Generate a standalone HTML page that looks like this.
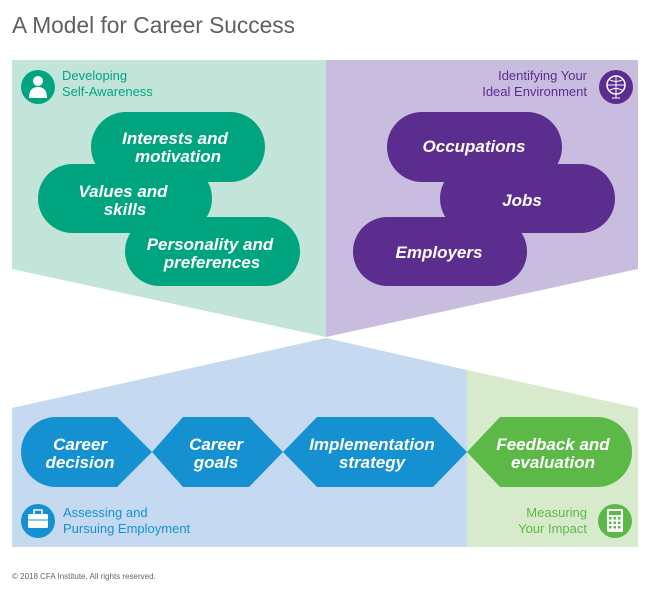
<!DOCTYPE html>
<html><head><meta charset="utf-8"><style>
html,body{margin:0;padding:0;background:#fff;}
svg{display:block;font-family:"Liberation Sans",sans-serif;}
.p{font-style:italic;font-weight:bold;font-size:17px;fill:#fff;text-anchor:middle;}
.l{font-size:13px;}
</style></head><body>
<svg width="650" height="592" viewBox="0 0 650 592">
<text x="12" y="33" font-size="23" fill="#5f6062" textLength="283" lengthAdjust="spacingAndGlyphs">A Model for Career Success</text>
<!-- top panels -->
<polygon points="12,60 326,60 326,337 12,269" fill="#c3e5d9"/>
<polygon points="326,60 638,60 638,269 326,337" fill="#c8bddf"/>
<!-- bottom panels -->
<polygon points="326,338 467,370 467,547 12,547 12,408" fill="#c5daf1"/>
<polygon points="467,370 638,408 638,547 467,547" fill="#d7eacb"/>
<!-- green pills -->
<g fill="#00a57f">
<rect x="38" y="164" width="174" height="69" rx="34.5"/>
<rect x="91" y="112" width="174" height="70" rx="35"/>
<rect x="125" y="217" width="175" height="69" rx="34.5"/>
</g>
<text class="p" x="175" y="144">Interests and</text>
<text class="p" x="178" y="162">motivation</text>
<text class="p" x="123" y="197">Values and</text>
<text class="p" x="125" y="215">skills</text>
<text class="p" x="210" y="250">Personality and</text>
<text class="p" x="212" y="268">preferences</text>
<!-- purple pills -->
<g fill="#5b2d8e">
<rect x="440" y="164" width="175" height="69" rx="34.5"/>
<rect x="387" y="112" width="175" height="70" rx="35"/>
<rect x="353" y="217" width="174" height="69" rx="34.5"/>
</g>
<text class="p" x="474" y="152">Occupations</text>
<text class="p" x="522" y="206">Jobs</text>
<text class="p" x="439" y="258">Employers</text>
<!-- bottom chevrons -->
<path d="M56,417 L117,417 L152,452 L117,487 L56,487 A35,35 0 0 1 56,417 Z" fill="#1590d0"/>
<polygon points="152,452 183,417 249,417 283,452 249,487 183,487" fill="#1590d0"/>
<polygon points="283,452 317,417 433,417 467,452 433,487 317,487" fill="#1590d0"/>
<path d="M467,452 L500,417 L597,417 A35,35 0 0 1 597,487 L500,487 Z" fill="#5cb947"/>
<text class="p" x="80" y="450">Career</text>
<text class="p" x="80" y="468">decision</text>
<text class="p" x="216" y="450">Career</text>
<text class="p" x="216" y="468">goals</text>
<text class="p" x="372" y="450">Implementation</text>
<text class="p" x="372" y="468">strategy</text>
<text class="p" x="553" y="450">Feedback and</text>
<text class="p" x="553" y="468">evaluation</text>
<!-- icons & labels -->
<circle cx="38" cy="87" r="17" fill="#00a57f"/>
<circle cx="38" cy="81" r="5" fill="#fff"/>
<path d="M29,98 Q29,87 38,87 Q47,87 47,98 Z" fill="#fff"/>
<text class="l" fill="#00a57f"><tspan x="62" y="80">Developing</tspan><tspan x="62" y="96">Self-Awareness</tspan></text>
<circle cx="616" cy="87" r="17" fill="#5b2d8e"/>
<circle cx="616" cy="85" r="9" fill="none" stroke="#fff" stroke-width="1.5"/>
<path d="M607,85 H625 M616,76 V94 M610,80 Q616,83 622,80 M610,90 Q616,87 622,90 M612,98 H620 M616,94 V98" stroke="#fff" stroke-width="1" fill="none"/>
<text class="l" fill="#5b2d8e" text-anchor="end"><tspan x="587" y="80">Identifying Your</tspan><tspan x="587" y="96">Ideal Environment</tspan></text>
<circle cx="38" cy="521" r="17" fill="#1590d0"/>
<rect x="28" y="514" width="20" height="14" rx="1.5" fill="#fff"/>
<rect x="34" y="510" width="8" height="5" fill="none" stroke="#fff" stroke-width="1.5"/>
<line x1="28" y1="520" x2="48" y2="520" stroke="#1590d0" stroke-width="1"/>
<text class="l" fill="#1590d0"><tspan x="63" y="517">Assessing and</tspan><tspan x="63" y="533">Pursuing Employment</tspan></text>
<circle cx="615" cy="521" r="17" fill="#5cb947"/>
<rect x="607" y="509" width="16" height="23" rx="1.5" fill="#fff"/>
<rect x="609" y="511" width="12" height="4" fill="#5cb947"/>
<g fill="#5cb947"><rect x="609" y="517" width="2.5" height="2.5"/><rect x="613.5" y="517" width="2.5" height="2.5"/><rect x="618" y="517" width="2.5" height="2.5"/><rect x="609" y="521.5" width="2.5" height="2.5"/><rect x="613.5" y="521.5" width="2.5" height="2.5"/><rect x="618" y="521.5" width="2.5" height="2.5"/><rect x="609" y="526" width="2.5" height="2.5"/><rect x="613.5" y="526" width="2.5" height="2.5"/><rect x="618" y="526" width="2.5" height="2.5"/></g>
<text class="l" fill="#5cb947" text-anchor="end"><tspan x="587" y="517">Measuring</tspan><tspan x="587" y="533">Your Impact</tspan></text>
<text x="12" y="579" font-size="8" fill="#666">© 2018 CFA Institute. All rights reserved.</text>
</svg>
</body></html>
